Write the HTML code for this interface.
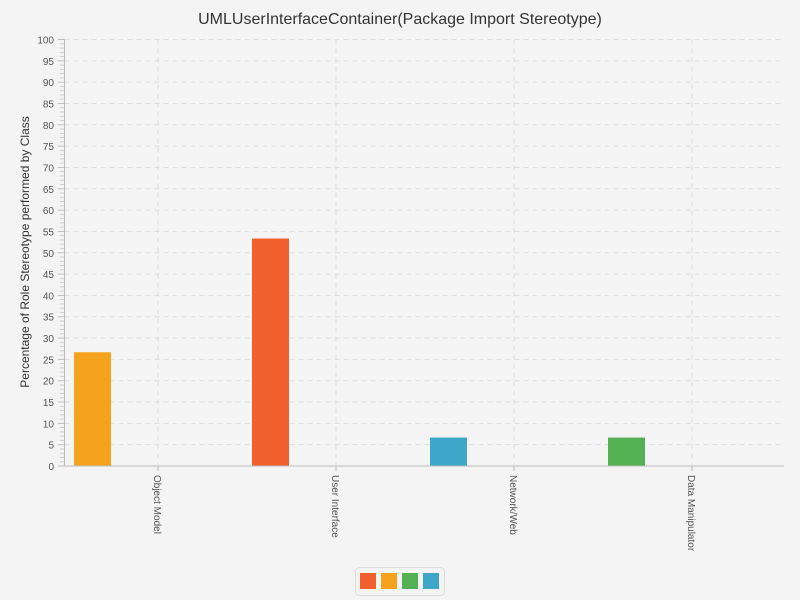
<!DOCTYPE html>
<html><head><meta charset="utf-8"><style>
body{margin:0;background:#f4f4f4;font-family:"Liberation Sans",sans-serif;}
svg{display:block}
</style></head><body>
<svg id="c" width="800" height="600">
<text x="400" y="24" text-anchor="middle" font-size="16" fill="#333">UMLUserInterfaceContainer(Package Import Stereotype)</text>
<text transform="translate(29,252) rotate(-90)" text-anchor="middle" font-size="12" fill="#333">Percentage of Role Stereotype performed by Class</text>
<g id="grid"></g><g id="bars"></g><g id="axes"></g>
<g>
<rect x="355.5" y="567.5" width="89" height="28" rx="4" fill="#f4f4f4" stroke="#ddd"/>
<g id="leg"></g></g>
</svg>
<script>
const categories=["Object Model","User Interface","Network/Web","Data Manipulator"];
const values=[26.67,53.33,6.67,6.67];
const barColors=["#f5a31f","#f25f2e","#3ea6c9","#53b153"];
const seriesColors=["#f25f2e","#f5a31f","#53b153","#3ea6c9"];
const yTicks=[0,5,10,15,20,25,30,35,40,45,50,55,60,65,70,75,80,85,90,95,100];
const NS="http://www.w3.org/2000/svg";
const X0=64.5,Y0=466,Y1=39.5,BAND=178;
const y=v=>Y0-(Y0-Y1)*v/100;
const catX=i=>158+BAND*i;
function mk(tag,at,parent){const e=document.createElementNS(NS,tag);for(const k in at)e.setAttribute(k,at[k]);document.getElementById(parent).appendChild(e);return e;}
yTicks.forEach(t=>{
 if(t>0){const g=mk('line',{x1:X0,x2:784,y1:y(t),y2:y(t),stroke:'#ddd','stroke-dasharray':'5,4'},'grid');
 
 }
 mk('line',{x1:58,x2:X0,y1:y(t),y2:y(t),stroke:'#bbb'},'axes');
 const l=mk('text',{x:54,y:y(t)+4,'text-anchor':'end','font-size':'10',fill:'#555'},'axes');l.textContent=t;
 
 
 if(t<100)for(let m=1;m<5;m++)mk('line',{x1:60,x2:X0,y1:y(t+m),y2:y(t+m),stroke:'#ccc'},'axes');
});
categories.forEach((c,i)=>{
 const g=mk('line',{x1:catX(i),x2:catX(i),y1:Y1,y2:Y0,stroke:'#ddd','stroke-dasharray':'5,4'},'grid');
 
 
 const b=mk('rect',{x:74+BAND*i,y:y(values[i]),width:37,height:Y0-y(values[i]),fill:barColors[i]},'bars');
 
 
 mk('line',{x1:catX(i),x2:catX(i),y1:Y0,y2:Y0+5,stroke:'#bbb'},'axes');
 const l=mk('text',{transform:`translate(${catX(i)-4},475) rotate(90)`,'font-size':'10',fill:'#555'},'axes');l.textContent=c;
 
 
});
mk('line',{x1:X0,x2:X0,y1:Y1,y2:Y0,stroke:'#bbb'},'axes');
mk('line',{x1:X0,x2:784,y1:Y0,y2:Y0,stroke:'#bbb'},'axes');
seriesColors.forEach((c,i)=>{const r=mk('rect',{x:360+21*i,y:573,width:16,height:16,fill:c},'leg');
 
 });
</script>
</body></html>
